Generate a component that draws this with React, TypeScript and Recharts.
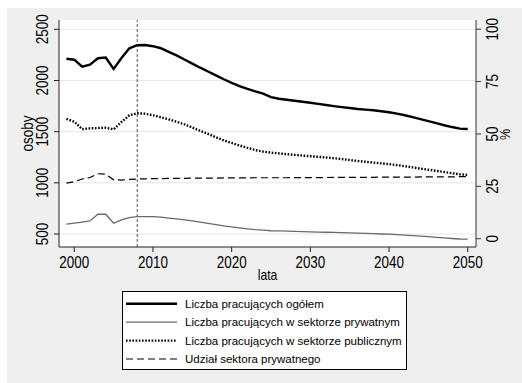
import { ComposedChart, Line, XAxis, YAxis, CartesianGrid, ReferenceLine, Legend } from 'recharts'

const years = [
  1999, 2000, 2001, 2002, 2003, 2004, 2005, 2006, 2007, 2008,
  2009, 2010, 2011, 2012, 2013, 2014, 2015, 2016, 2017, 2018,
  2019, 2020, 2021, 2022, 2023, 2024, 2025, 2026, 2027, 2028,
  2029, 2030, 2031, 2032, 2033, 2034, 2035, 2036, 2037, 2038,
  2039, 2040, 2041, 2042, 2043, 2044, 2045, 2046, 2047, 2048,
  2049, 2050,
]

// osoby (lewa oś)
const totalEmployed = [
  2213, 2203, 2135, 2155, 2217, 2225, 2113, 2220, 2314, 2345,
  2347, 2335, 2315, 2280, 2245, 2205, 2165, 2125, 2088, 2050,
  2012, 1977, 1945, 1918, 1893, 1872, 1838, 1822, 1812, 1802,
  1792, 1783, 1771, 1760, 1750, 1740, 1731, 1722, 1715, 1709,
  1700, 1690, 1676, 1660, 1642, 1622, 1603, 1583, 1563, 1545,
  1530, 1526,
]

const privateEmployed = [
  596, 607, 617, 628, 693, 693, 605, 637, 660, 670,
  670, 670, 664, 656, 648, 638, 628, 616, 604, 592,
  580, 570, 560, 551, 543, 537, 532, 530, 528, 525,
  523, 521, 519, 517, 515, 513, 511, 509, 506, 503,
  500, 498, 494, 489, 484, 479, 474, 468, 462, 456,
  451, 449,
]

const publicEmployed = [
  1624, 1598, 1525, 1532, 1535, 1538, 1523, 1595, 1660, 1680,
  1675, 1660, 1641, 1620, 1597, 1572, 1540, 1508, 1478, 1445,
  1415, 1390, 1365, 1342, 1320, 1305, 1295, 1288, 1280, 1273,
  1266, 1260, 1254, 1248, 1240, 1232, 1223, 1214, 1206, 1198,
  1190, 1183, 1173, 1162, 1151, 1139, 1128, 1117, 1106, 1094,
  1083, 1077,
]

// % (prawa oś)
const privateShare = [
  26.5, 27.2, 28.5, 29.2, 31.0, 30.8, 28.1, 28.0, 28.3, 28.5,
  28.6, 28.7, 28.7, 28.8, 28.8, 28.8, 28.9, 28.9, 28.9, 28.9,
  29.0, 29.0, 29.0, 29.0, 29.1, 29.1, 29.1, 29.1, 29.1, 29.2,
  29.2, 29.2, 29.2, 29.2, 29.3, 29.3, 29.3, 29.3, 29.3, 29.3,
  29.4, 29.4, 29.4, 29.4, 29.4, 29.5, 29.5, 29.5, 29.5, 29.5,
  29.6, 29.6,
]

const xTicks = [2000, 2010, 2020, 2030, 2040, 2050]
const leftTicks = [500, 1000, 1500, 2000, 2500]
const rightTicks = [0, 25, 50, 75, 100]
const markerYear = 2008

const seriesNames = [
  'Liczba pracujących ogółem',
  'Liczba pracujących w sektorze prywatnym',
  'Liczba pracujących w sektorze publicznym',
  'Udział sektora prywatnego',
]

const data = years.map((year, i) => ({
  year,
  total: totalEmployed[i],
  priv: privateEmployed[i],
  pub: publicEmployed[i],
  share: privateShare[i],
}))

const FONT = "'Liberation Sans', Arial, sans-serif"
// the original uses a condensed face, squeeze the glyphs a bit
const NARROW = 0.84

// line styles, same order as seriesNames
const styles = [
  { stroke: '#000000', width: 2.4, dash: undefined },
  { stroke: '#6a6a6a', width: 1.3, dash: undefined },
  { stroke: '#000000', width: 2.4, dash: '1.6 1.6' },
  { stroke: '#000000', width: 1.2, dash: '7 4' },
]

function NarrowText({ x, y, rotate = 0, size, children, dy }: any) {
  return (
    <g transform={`translate(${x} ${y}) rotate(${rotate}) scale(${NARROW} 1)`}>
      <text x={0} y={0} dy={dy} textAnchor="middle" fontSize={size} fontFamily={FONT} fill="#000">
        {children}
      </text>
    </g>
  )
}

function LeftTick(props: any) {
  const { x, y, payload } = props
  return <NarrowText x={x} y={y} rotate={-90} size={16}>{payload.value}</NarrowText>
}

function RightTick(props: any) {
  const { x, y, payload } = props
  return <NarrowText x={x + 11} y={y} rotate={-90} size={16}>{payload.value}</NarrowText>
}

function BottomTick(props: any) {
  const { x, y, payload } = props
  return <NarrowText x={x} y={y} dy="0.71em" size={16}>{payload.value}</NarrowText>
}

function renderLegend() {
  return (
    <svg width={285} height={79}>
      <rect x={0.5} y={0.5} width={284} height={78} fill="#ffffff" stroke="#000000" strokeWidth={1} />
      {seriesNames.map((name, i) => {
        const cy = 12.8 + i * 18.4
        const s = styles[i]
        return (
          <g key={name}>
            <line x1={4} x2={55} y1={cy} y2={cy} stroke={s.stroke} strokeWidth={s.width} strokeDasharray={s.dash} />
            <text x={63} y={cy} dominantBaseline="central" fontSize={11.5} fontFamily={FONT} fill="#000">
              {name}
            </text>
          </g>
        )
      })}
    </svg>
  )
}

export default function App() {
  return (
    <div style={{ position: 'absolute', left: 0, top: 0, width: 522, height: 383, background: '#ffffff' }}>
      <div style={{ position: 'absolute', left: 7, top: 8, right: 0, bottom: 0, background: '#efefef' }} />
      <div style={{ position: 'absolute', left: 0, top: 0 }}>
        <ComposedChart width={522} height={383} data={data} margin={{ top: 20, right: 0, left: 0, bottom: 96 }}>
          <CartesianGrid yAxisId="left" vertical={false} horizontalValues={leftTicks} stroke="#e6e6e6" fill="#ffffff" fillOpacity={1} />
          <XAxis
            dataKey="year"
            type="number"
            domain={[1998.06, 2051.05]}
            ticks={xTicks}
            height={40}
            tickSize={5}
            tickMargin={5}
            tick={<BottomTick />}
            stroke="#222"
            label={{
              content: (p: any) => (
                <NarrowText x={p.viewBox.x + p.viewBox.width / 2} y={p.viewBox.y + 33} size={14.5}>
                  lata
                </NarrowText>
              ),
            }}
          />
          <YAxis
            yAxisId="left"
            orientation="left"
            domain={[373, 2591]}
            ticks={leftTicks}
            width={59}
            tickSize={5}
            tickMargin={6}
            tick={<LeftTick />}
            stroke="#222"
            label={{
              content: (p: any) => (
                <NarrowText x={33} y={p.viewBox.y + p.viewBox.height / 2} rotate={-90} size={16}>
                  osoby
                </NarrowText>
              ),
            }}
          />
          <YAxis
            yAxisId="right"
            orientation="right"
            domain={[-3.96, 104.4]}
            ticks={rightTicks}
            width={46}
            tickSize={5}
            tickMargin={6}
            tick={<RightTick />}
            stroke="#333"
            label={{
              content: (p: any) => (
                <NarrowText x={p.viewBox.x + 34} y={p.viewBox.y + p.viewBox.height / 2 + 1} rotate={-90} size={15}>
                  %
                </NarrowText>
              ),
            }}
          />
          <ReferenceLine yAxisId="left" x={markerYear} stroke="#555555" strokeWidth={1} strokeDasharray="3 2" />
          <Line yAxisId="left" type="linear" dataKey="total" name={seriesNames[0]} stroke={styles[0].stroke} strokeWidth={styles[0].width} dot={false} isAnimationActive={false} />
          <Line yAxisId="left" type="linear" dataKey="priv" name={seriesNames[1]} stroke={styles[1].stroke} strokeWidth={styles[1].width} dot={false} isAnimationActive={false} />
          <Line yAxisId="left" type="linear" dataKey="pub" name={seriesNames[2]} stroke={styles[2].stroke} strokeWidth={styles[2].width} strokeDasharray={styles[2].dash} dot={false} isAnimationActive={false} />
          <Line yAxisId="right" type="linear" dataKey="share" name={seriesNames[3]} stroke={styles[3].stroke} strokeWidth={styles[3].width} strokeDasharray={styles[3].dash} dot={false} isAnimationActive={false} />
          <Legend
            layout="vertical"
            align="center"
            verticalAlign="middle"
            content={renderLegend}
            wrapperStyle={{ left: 122, top: 291, width: 285, height: 79 }}
          />
        </ComposedChart>
      </div>
    </div>
  )
}
